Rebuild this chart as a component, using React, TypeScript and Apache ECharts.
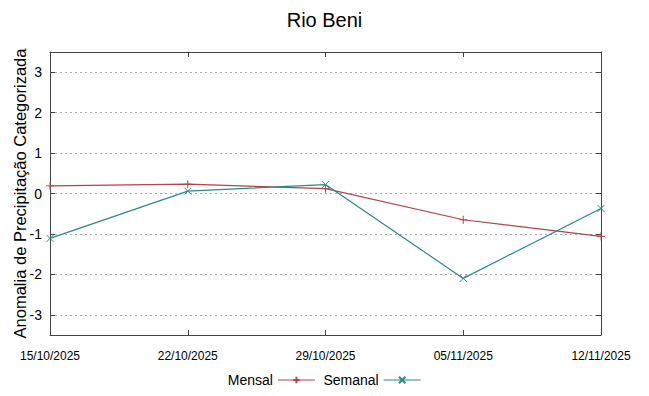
import React, { useEffect, useRef } from "react";
import * as echarts from "echarts";

const title = "Rio Beni";
const yAxisName = "Anomalia de Precipitação Categorizada";
const categories = ["15/10/2025", "22/10/2025", "29/10/2025", "05/11/2025", "12/11/2025"];
const mensal = [0.19, 0.23, 0.12, -0.65, -1.06];
const semanal = [-1.11, 0.06, 0.22, -2.1, -0.37];
const yTicks = [-3, -2, -1, 0, 1, 2, 3];

const RED = "#b5434a";
const TEAL = "#2b8a8a";
const PLUS = "path://M0,5L10,5M5,0L5,10";
const CROSS = "path://M0,0L10,10M0,10L10,0";

export default function App() {
  const ref = useRef<HTMLDivElement>(null);
  useEffect(() => {
    if (!ref.current) return;
    const chart = echarts.init(ref.current, undefined, { renderer: "svg" });
    const axisLine = { show: true, onZero: false, lineStyle: { color: "#444", width: 1 } };
    chart.setOption({
      animation: false,
      backgroundColor: "#fff",
      textStyle: { fontFamily: "Liberation Sans" },
      title: {
        text: title,
        left: "center",
        top: 5,
        textStyle: { fontSize: 20, fontWeight: "normal", color: "#000", fontFamily: "Liberation Sans" },
      },
      legend: {
        bottom: 4,
        left: "center",
        align: "right",
        itemWidth: 37,
        itemHeight: 8,
        itemGap: 8,
        lineStyle: { width: 1 },
        textStyle: { fontSize: 14, color: "#000", fontFamily: "Liberation Sans" },
        data: ["Mensal", "Semanal"],
      },
      grid: { left: 50, right: 48, top: 52, bottom: 61, containLabel: false, outerBoundsMode: "none" },
      xAxis: [
        {
          type: "category",
          data: categories,
          boundaryGap: false,
          position: "bottom",
          axisLine,
          axisTick: { show: true, inside: true, length: 5, lineStyle: { color: "#444" } },
          axisLabel: { fontSize: 12, color: "#000", margin: 15, fontFamily: "Liberation Sans" },
          splitLine: { show: false },
        },
        {
          type: "category",
          data: categories,
          boundaryGap: false,
          position: "top",
          axisLine,
          axisTick: { show: true, inside: true, length: 5, lineStyle: { color: "#444" } },
          axisLabel: { show: false },
          splitLine: { show: false },
        },
      ],
      yAxis: [
        {
          type: "value",
          min: -3.5,
          max: 3.5,
          interval: 1,
          position: "left",
          name: yAxisName,
          nameLocation: "middle",
          nameGap: 22,
          nameMoveOverlap: false,
          nameTextStyle: { fontSize: 16.5, color: "#000", fontFamily: "Liberation Sans" },
          axisLine,
          axisTick: { show: true, inside: true, length: 5, lineStyle: { color: "#444" }, customValues: yTicks },
          axisLabel: {
            fontSize: 14,
            color: "#000",
            margin: 8,
            customValues: yTicks,
            fontFamily: "Liberation Sans",
          },
          splitLine: {
            show: true,
            lineStyle: { color: "#aaa", type: [2, 3], width: 1 },
          },
        },
        {
          type: "value",
          min: -3.5,
          max: 3.5,
          interval: 1,
          position: "right",
          axisLine,
          axisTick: { show: true, inside: true, length: 5, lineStyle: { color: "#444" }, customValues: yTicks },
          axisLabel: { show: false },
          splitLine: { show: false },
        },
      ],
      series: [
        {
          name: "Mensal",
          type: "line",
          data: mensal,
          symbol: PLUS,
          symbolSize: 8,
          showAllSymbol: true,
          color: RED,
          lineStyle: { color: RED, width: 1.2 },
          itemStyle: { color: "none", borderColor: RED, borderWidth: 1 },
        },
        {
          name: "Semanal",
          type: "line",
          data: semanal,
          symbol: CROSS,
          symbolSize: 7,
          showAllSymbol: true,
          color: TEAL,
          lineStyle: { color: TEAL, width: 1.2 },
          itemStyle: { color: "none", borderColor: TEAL, borderWidth: 1 },
        },
      ],
    });
    return () => chart.dispose();
  }, []);
  return <div ref={ref} style={{ width: 649, height: 396, position: "absolute", left: 0, top: 0 }} />;
}
